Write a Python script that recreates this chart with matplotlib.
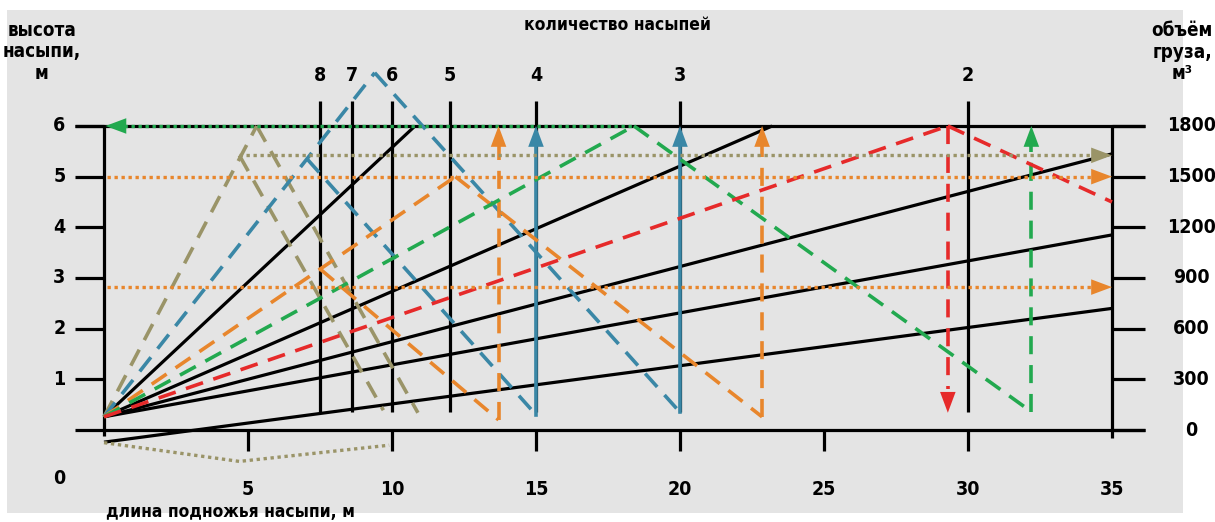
import matplotlib
matplotlib.use('Agg')
from matplotlib import pyplot as plt
from matplotlib import font_manager
from matplotlib.patches import Rectangle

# axis scales
heights = [1, 2, 3, 4, 5, 6]
volumes = [0, 300, 600, 900, 1200, 1500, 1800]
lengths = [5, 10, 15, 20, 25, 30, 35]

# "количество насыпей" verticals (length = 60 / count)
mound_counts = [8, 7, 6, 5, 4, 3, 2]
mound_x = [7.5, 8.6, 10, 12, 15, 20, 30]

# black fan lines: start/end points
fan_x0 = [0, 0, 0, 0, 0]
fan_y0 = [0.26, 0.26, 0.26, 0.26, -0.24]
fan_x1 = [10.8, 23.2, 35, 35, 35]
fan_y1 = [6.0, 6.0, 5.45, 3.85, 2.4]

# coloured triangles (dashed), x and y of each polyline
olive_up_x, olive_up_y = [0, 5.3], [0.26, 6.0]
olive_down_x, olive_down_y = [5.3, 10.9], [6.0, 0.34]
olive_down2_x, olive_down2_y = [4.7, 9.7], [5.42, 0.39]
olive_level = 5.42
olive_brace_x, olive_brace_y = [0, 4.7, 9.9], [-0.25, -0.62, -0.3]

blue_up_x, blue_up_y = [0, 9.4], [0.26, 7.05]
blue_down_x, blue_down_y = [9.4, 20], [7.05, 0.35]
blue_down2_x, blue_down2_y = [7.05, 15], [5.35, 0.3]

orange_up_x, orange_up_y = [0, 12.2], [0.26, 5.0]
orange_down_x, orange_down_y = [12.2, 22.85], [5.0, 0.26]
orange_down2_x, orange_down2_y = [7.5, 13.7], [3.18, 0.2]
orange_levels = [5.0, 2.82]

green_up_x, green_up_y = [0, 18.4], [0.26, 6.0]
green_down_x, green_down_y = [18.4, 32.2], [6.0, 0.36]

red_up_x, red_up_y = [0, 29.3], [0.26, 6.0]
red_down_x, red_down_y = [29.3, 35], [6.0, 4.5]

OLIVE = '#9a9468'
BLUE = '#3a87a6'
ORANGE = '#e8862c'
GREEN = '#22a94f'
RED = '#e62a2a'

DASH = (0, (5, 3))
DOT = (0, (1, 1.1))

W, H = 1215, 522
X0_PX, X_SCALE = 104, 28.8     # px of x=0, px per metre
Y0_PX, Y_SCALE = 430, 50.67    # px of y=0, px per metre


def pick_font():
    """Look for a narrow bold face; fall back to DejaVu Sans bold."""
    wanted = ['liberation sans narrow', 'dejavu sans condensed', 'roboto condensed',
              'open sans condensed', 'noto sans condensed', 'liberation sans']
    found = {}
    for f in font_manager.fontManager.ttflist:
        key = f.name.lower()
        path = f.fname.lower()
        bold = (f.weight in ('bold', 700) or (isinstance(f.weight, int) and f.weight >= 600)
                or 'bold' in path)
        if not bold or 'italic' in path or 'oblique' in path:
            continue
        if 'condensed' in path and 'dejavu' in path:
            key = 'dejavu sans condensed'
        if 'condensed' in path and 'noto' in path and 'condensed' not in key:
            key = 'noto sans condensed'
        found.setdefault(key, f.fname)
    for name in wanted:
        if name in found:
            return font_manager.FontProperties(fname=found[name])
    return font_manager.FontProperties(family='DejaVu Sans', weight='bold')


FP = pick_font()


def label(target, x, y, s, size=13, **kw):
    fp = FP.copy()
    fp.set_size(size)
    target.text(x, y, s, fontproperties=fp, ha='center', va='center', **kw)


def arrow_head(ax, tip, tail, color):
    ax.annotate('', xy=tip, xytext=tail,
                arrowprops=dict(arrowstyle='-|>,head_length=0.75,head_width=0.28',
                                color=color, lw=0, shrinkA=0, shrinkB=0,
                                mutation_scale=20),
                zorder=6)


def main():
    fig = plt.figure(figsize=(W / 100, H / 100), dpi=100)
    fig.patch.set_facecolor('white')
    fig.patches.append(Rectangle((7 / W, 1 - 513 / H), (1183 - 7) / W, (513 - 10) / H,
                                 transform=fig.transFigure, facecolor='#e4e4e4',
                                 edgecolor='none', zorder=-10))
    ax = fig.add_axes([0, 0, 1, 1])
    ax.set_xlim(-X0_PX / X_SCALE, (W - X0_PX) / X_SCALE)
    ax.set_ylim(-(H - Y0_PX) / Y_SCALE, Y0_PX / Y_SCALE)
    ax.axis('off')

    k = dict(color='black', lw=2.3, solid_capstyle='butt', zorder=2)
    left_end, right_end = -1.0, 36.15

    # frame
    ax.plot([left_end, right_end], [0, 0], **k)
    ax.plot([left_end, right_end], [6, 6], **k)
    ax.plot([0, 0], [-0.12, 6], **k)
    ax.plot([35, 35], [-0.15, 6], **k)
    for h in heights:
        ax.plot([left_end, 0], [h, h], **k)
    for v in volumes:
        ax.plot([35, right_end], [v / 300, v / 300], **k)
    for L in lengths[:-1]:
        ax.plot([L, L], [0, -0.42], **k)

    # mound count verticals
    for n, x in zip(mound_counts, mound_x):
        ax.plot([x, x], [0.35, 6.5], **k)
        label(ax, x, 7.0, str(n), 14)

    # fan
    for x0, y0, x1, y1 in zip(fan_x0, fan_y0, fan_x1, fan_y1):
        ax.plot([x0, x1], [y0, y1], **k)

    d = dict(lw=2.6, ls=DASH, zorder=4)
    dt = dict(lw=2.4, ls=DOT, zorder=5)

    # olive
    ax.plot(olive_up_x, olive_up_y, color=OLIVE, **d)
    ax.plot(olive_down_x, olive_down_y, color=OLIVE, **d)
    ax.plot(olive_down2_x, olive_down2_y, color=OLIVE, **d)
    ax.plot([olive_down2_x[0], 34.4], [olive_level] * 2, color=OLIVE, **dt)
    arrow_head(ax, (35, olive_level), (34.2, olive_level), OLIVE)
    ax.plot(olive_brace_x, olive_brace_y, color=OLIVE, **dt)

    # blue
    ax.plot(blue_up_x, blue_up_y, color=BLUE, **d)
    ax.plot(blue_down_x, blue_down_y, color=BLUE, **d)
    ax.plot(blue_down2_x, blue_down2_y, color=BLUE, **d)
    for x, y in [(blue_down_x[1], blue_down_y[1]), (blue_down2_x[1], blue_down2_y[1])]:
        ax.plot([x, x], [y, 5.6], color=BLUE, lw=2.6, zorder=4)
        arrow_head(ax, (x, 6), (x, 5.5), BLUE)

    # orange
    ax.plot(orange_up_x, orange_up_y, color=ORANGE, **d)
    ax.plot(orange_down_x, orange_down_y, color=ORANGE, **d)
    ax.plot(orange_down2_x, orange_down2_y, color=ORANGE, **d)
    for x, y in [(orange_down_x[1], orange_down_y[1]), (orange_down2_x[1], orange_down2_y[1])]:
        ax.plot([x, x], [y, 5.6], color=ORANGE, **d)
        arrow_head(ax, (x, 6), (x, 5.5), ORANGE)
    for lvl in orange_levels:
        ax.plot([0.1, 34.4], [lvl, lvl], color=ORANGE, **dt)
        arrow_head(ax, (35, lvl), (34.2, lvl), ORANGE)

    # green
    ax.plot(green_up_x, green_up_y, color=GREEN, **d)
    ax.plot(green_down_x, green_down_y, color=GREEN, **d)
    gx, gy = green_down_x[1], green_down_y[1]
    ax.plot([gx, gx], [gy, 5.6], color=GREEN, **d)
    arrow_head(ax, (gx, 6), (gx, 5.5), GREEN)
    ax.plot([0.7, green_up_x[1]], [6, 6], color=GREEN, **dt)
    arrow_head(ax, (0.05, 6), (0.9, 6), GREEN)

    # red
    ax.plot(red_up_x, red_up_y, color=RED, **d)
    ax.plot(red_down_x, red_down_y, color=RED, **d)
    rx = red_down_x[0]
    ax.plot([rx, rx], [6, 0.8], color=RED, **d)
    arrow_head(ax, (rx, 0.34), (rx, 0.9), RED)

    # tick labels
    for h in heights:
        label(ax, -1.55, h, str(h), 14)
    for v in volumes:
        label(ax, 37.75, v / 300, str(v), 14)
    for L in lengths:
        label(ax, L, -1.18, str(L), 14)
    label(ax, -1.55, -0.95, '0', 14)

    # axis titles
    label(fig, 617 / W, 1 - 25 / H, 'количество насыпей', 12.5)
    label(fig, 42 / W, 1 - 52 / H, 'высота\nнасыпи,\nм', 13.5, linespacing=1.15)
    label(fig, 1182 / W, 1 - 52 / H, 'объём\nгруза,\nм³', 13.5, linespacing=1.15)
    label(fig, 230 / W, 1 - 512 / H, 'длина подножья насыпи, м', 12.5)

    fig.savefig('out.png', dpi=100)


if __name__ == '__main__':
    main()
